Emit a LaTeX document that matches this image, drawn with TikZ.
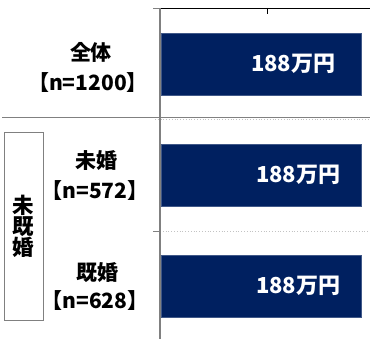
\documentclass[tikz,border=0pt]{standalone}
\usepackage{fontspec}
\setmainfont{Noto Sans CJK JP}
\usetikzlibrary{positioning}
\definecolor{barblue}{RGB}{0,32,96}
\definecolor{axisgray}{RGB}{128,128,128}
\definecolor{dotgray}{RGB}{195,195,195}

\tikzset{
 bar/.style={fill=barblue, draw=barblue!75!white, line width=0.5pt, minimum width=200pt, minimum height=62pt, anchor=west, inner sep=0pt},
 barlabel/.style={text=white, font=\fontsize{22}{22}\selectfont\bfseries, inner sep=0pt, anchor=east},
 grouplabel/.style={font=\fontsize{21}{21}\selectfont\bfseries, inner sep=0pt},
}

\begin{document}
\begin{tikzpicture}[x=1pt, y=-1pt]
 \useasboundingbox (0,0) rectangle (370,339);
 % bars
 \node [bar] (bar1) at (161, 64) {};
 \node [bar] (bar2) at (161, 175) {};
 \node [bar] (bar3) at (161, 286) {};
 \node [barlabel] (val1) at ([xshift=-26pt]bar1.east) {188万円};
 \node [barlabel] (val2) at ([xshift=-21pt]bar2.east) {188万円};
 \node [barlabel] (val3) at ([xshift=-21pt]bar3.east) {188万円};
 % row labels
 \node [grouplabel] (all) at (91, 52) {全体};
 \node [grouplabel] (alln) at (88, 83) {【n=1200】};
 \node [grouplabel] (single) at (96.5, 161) {未婚};
 \node [grouplabel] (singlen) at (95, 191) {【n=572】};
 \node [grouplabel] (married) at (97, 273) {既婚};
 \node [grouplabel] (marriedn) at (95, 301) {【n=628】};
 \node [grouplabel, draw=axisgray, line width=0.8pt, minimum width=39pt, minimum height=188pt, align=center, font=\fontsize{21.5}{21}\selectfont\bfseries] (marital) at (23.5, 226) {未\\既\\婚};
 % grid and axis
 \coordinate (top) at (160, 8);
 \coordinate (bottom) at (160, 339);
 \draw [line width=0.9pt] (top) -- (370, 8);
 \draw [line width=0.9pt] (267, 8) -- (267, 14);
 \draw [axisgray, line width=0.9pt] (153, 8) -- (top);
 \draw [axisgray, line width=1pt] (2, 117.5) -- (370, 117.5);
 \draw [dotgray, dotted, line width=0.8pt] (155, 119.5) -- (370, 119.5);
 \draw [dotgray, dotted, line width=0.8pt] (160, 231) -- (370, 231);
 \draw [axisgray, line width=0.9pt] (153, 231) -- (160, 231);
 \draw [axisgray, line width=1.6pt] (top) -- (bottom);
\end{tikzpicture}
\end{document}
